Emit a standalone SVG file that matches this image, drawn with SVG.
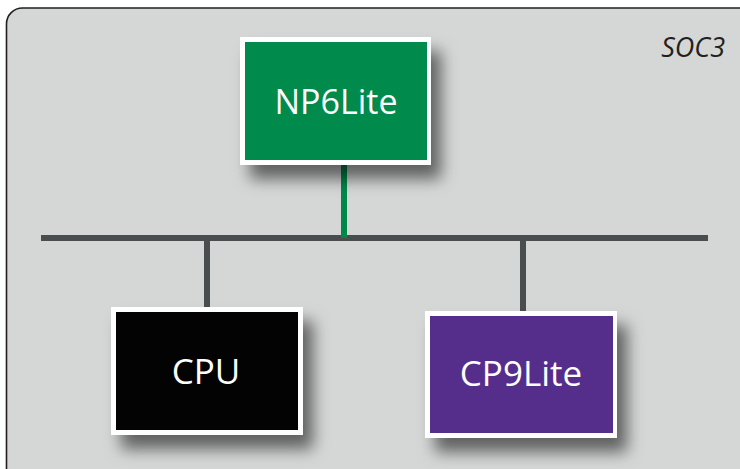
<svg xmlns="http://www.w3.org/2000/svg" width="740" height="469" viewBox="0 0 740 469">
<defs>
<style>
.lbl{font-family:"Open Sans","Noto Sans","Liberation Sans",sans-serif;fill:#ffffff;text-anchor:middle;font-size:35px}
.frame{fill:#ffffff}
.bus{stroke:#4a4d4d;stroke-width:6;fill:none}
</style>
<filter id="sh" x="-20%" y="-20%" width="160%" height="180%">
<feDropShadow dx="10" dy="14" stdDeviation="8" flood-color="#000" flood-opacity="0.55"/>
</filter>
</defs>
<rect x="6.5" y="8" width="750" height="480" rx="16" fill="#d5d6d6" stroke="#231f20" stroke-width="1.6"/>
<text x="725" y="57" font-family="'Open Sans','Noto Sans',sans-serif" font-style="italic" font-size="27" fill="#231f20" text-anchor="end">SOC3</text>
<g id="connectors">
<line class="bus" x1="41" y1="238" x2="708" y2="238"/>
<line x1="344" y1="165" x2="344" y2="238" stroke="#00884a" stroke-width="6"/>
<line class="bus" x1="207" y1="238" x2="207" y2="308"/>
<line class="bus" x1="523" y1="238" x2="523" y2="312"/>
</g>
<g id="np6lite">
<rect class="frame" x="240" y="37" width="191" height="128" filter="url(#sh)"/>
<rect x="245" y="42" width="182" height="118" fill="#008a4b"/>
<text class="lbl" x="336" y="114" style="font-size:34px">NP6Lite</text>
</g>
<g id="cpu">
<rect class="frame" x="111" y="307" width="192" height="128" filter="url(#sh)"/>
<rect x="116" y="312" width="182" height="118" fill="#030303"/>
<text class="lbl" x="206" y="384">CPU</text>
</g>
<g id="cp9lite">
<rect class="frame" x="425" y="311" width="192" height="127" filter="url(#sh)"/>
<rect x="430" y="316" width="183" height="117" fill="#552d8a"/>
<text class="lbl" x="521" y="386">CP9Lite</text>
</g>
</svg>
